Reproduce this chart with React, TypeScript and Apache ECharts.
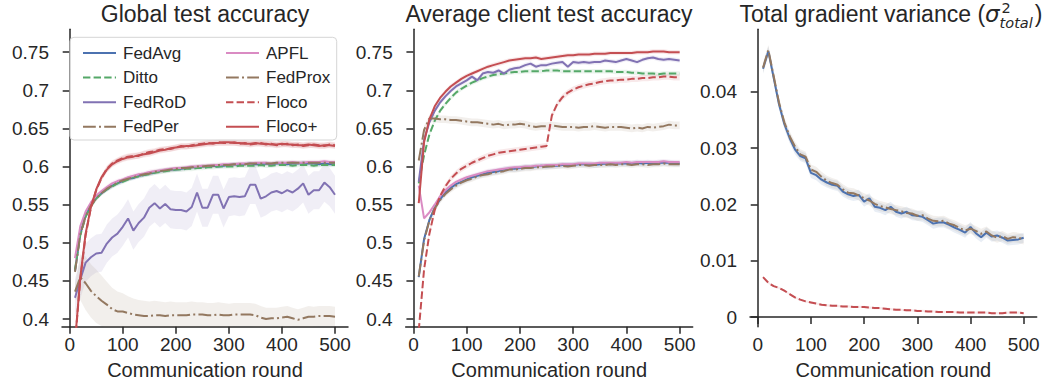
import React, { useEffect, useRef } from "react";
import * as echarts from "echarts";

// ---------------- DATA ----------------
const rounds = [10, 20, 30, 40, 50, 60, 70, 80, 90, 100, 110, 120, 130, 140, 150, 160, 170, 180, 190, 200, 210, 220, 230, 240, 250, 260, 270, 280, 290, 300, 310, 320, 330, 340, 350, 360, 370, 380, 390, 400, 410, 420, 430, 440, 450, 460, 470, 480, 490, 500];

const methods = ["FedAvg", "Ditto", "FedRoD", "FedPer", "APFL", "FedProx", "Floco", "Floco+"];
const panelTitles = ["Global test accuracy", "Average client test accuracy"];
const xAxisName = "Communication round";
const xTicks = [0, 100, 200, 300, 400, 500];
const accTicks = [0.4, 0.45, 0.5, 0.55, 0.6, 0.65, 0.7, 0.75];
const varTicks = [0, 0.01, 0.02, 0.03, 0.04];

// Global test accuracy
const globalFedAvg = [0.463, 0.512, 0.536, 0.549, 0.559, 0.565, 0.570, 0.575, 0.578, 0.581, 0.584, 0.585, 0.588, 0.589, 0.591, 0.592, 0.594, 0.595, 0.596, 0.596, 0.597, 0.598, 0.599, 0.599, 0.600, 0.600, 0.601, 0.600, 0.601, 0.602, 0.603, 0.602, 0.603, 0.604, 0.603, 0.603, 0.604, 0.603, 0.604, 0.604, 0.603, 0.604, 0.604, 0.605, 0.604, 0.604, 0.603, 0.604, 0.603, 0.603];
const globalDitto = [0.465, 0.510, 0.534, 0.548, 0.558, 0.565, 0.570, 0.574, 0.578, 0.580, 0.583, 0.586, 0.587, 0.589, 0.590, 0.592, 0.593, 0.594, 0.595, 0.596, 0.596, 0.597, 0.597, 0.598, 0.598, 0.599, 0.599, 0.600, 0.600, 0.600, 0.600, 0.601, 0.601, 0.601, 0.601, 0.602, 0.601, 0.601, 0.602, 0.602, 0.602, 0.601, 0.602, 0.602, 0.602, 0.601, 0.602, 0.602, 0.602, 0.602];
const globalFedRoD = [0.428, 0.452, 0.474, 0.481, 0.486, 0.487, 0.499, 0.507, 0.512, 0.521, 0.532, 0.516, 0.526, 0.533, 0.546, 0.552, 0.545, 0.551, 0.544, 0.543, 0.543, 0.541, 0.547, 0.566, 0.546, 0.546, 0.563, 0.563, 0.545, 0.560, 0.561, 0.560, 0.561, 0.576, 0.576, 0.558, 0.561, 0.566, 0.568, 0.565, 0.569, 0.566, 0.571, 0.578, 0.563, 0.569, 0.569, 0.579, 0.573, 0.563];
const globalFedPer = [0.436, 0.455, 0.447, 0.437, 0.430, 0.424, 0.419, 0.413, 0.410, 0.410, 0.408, 0.406, 0.405, 0.404, 0.404, 0.405, 0.405, 0.404, 0.405, 0.405, 0.405, 0.405, 0.406, 0.406, 0.406, 0.405, 0.405, 0.406, 0.405, 0.405, 0.406, 0.406, 0.406, 0.406, 0.405, 0.402, 0.400, 0.401, 0.401, 0.402, 0.403, 0.401, 0.399, 0.401, 0.403, 0.403, 0.404, 0.404, 0.404, 0.403];
const globalAPFL = [0.480, 0.522, 0.541, 0.553, 0.562, 0.568, 0.573, 0.578, 0.581, 0.583, 0.586, 0.588, 0.590, 0.591, 0.593, 0.594, 0.595, 0.596, 0.597, 0.598, 0.598, 0.599, 0.600, 0.600, 0.601, 0.601, 0.602, 0.602, 0.603, 0.603, 0.603, 0.604, 0.604, 0.604, 0.605, 0.605, 0.605, 0.604, 0.605, 0.605, 0.605, 0.606, 0.605, 0.605, 0.606, 0.606, 0.606, 0.607, 0.606, 0.606];
const globalFedProx = [0.462, 0.511, 0.535, 0.549, 0.558, 0.565, 0.571, 0.575, 0.579, 0.582, 0.584, 0.586, 0.588, 0.590, 0.591, 0.593, 0.594, 0.595, 0.596, 0.597, 0.598, 0.598, 0.599, 0.600, 0.600, 0.601, 0.601, 0.602, 0.602, 0.602, 0.603, 0.603, 0.603, 0.604, 0.604, 0.604, 0.604, 0.604, 0.605, 0.605, 0.605, 0.605, 0.605, 0.605, 0.605, 0.605, 0.605, 0.605, 0.605, 0.605];
const globalFloco = [0.368, 0.452, 0.510, 0.546, 0.569, 0.585, 0.597, 0.604, 0.608, 0.611, 0.613, 0.614, 0.614, 0.617, 0.619, 0.620, 0.622, 0.623, 0.623, 0.625, 0.627, 0.626, 0.628, 0.629, 0.630, 0.631, 0.630, 0.632, 0.631, 0.631, 0.632, 0.630, 0.631, 0.629, 0.630, 0.631, 0.629, 0.630, 0.628, 0.629, 0.630, 0.628, 0.629, 0.627, 0.628, 0.629, 0.628, 0.627, 0.629, 0.628];
const globalFlocoPlus = [0.370, 0.455, 0.512, 0.547, 0.570, 0.586, 0.596, 0.603, 0.607, 0.610, 0.612, 0.613, 0.615, 0.616, 0.617, 0.619, 0.621, 0.622, 0.624, 0.625, 0.626, 0.627, 0.627, 0.628, 0.629, 0.630, 0.631, 0.631, 0.632, 0.632, 0.631, 0.631, 0.630, 0.630, 0.631, 0.630, 0.630, 0.629, 0.629, 0.630, 0.629, 0.629, 0.628, 0.628, 0.629, 0.628, 0.627, 0.628, 0.628, 0.627];

// Average client test accuracy
const clientFedAvg = [0.455, 0.505, 0.530, 0.546, 0.557, 0.566, 0.572, 0.577, 0.580, 0.583, 0.586, 0.588, 0.590, 0.592, 0.593, 0.594, 0.596, 0.597, 0.597, 0.598, 0.599, 0.599, 0.600, 0.601, 0.600, 0.601, 0.601, 0.602, 0.602, 0.602, 0.603, 0.603, 0.603, 0.602, 0.603, 0.604, 0.603, 0.604, 0.604, 0.604, 0.604, 0.605, 0.604, 0.605, 0.604, 0.605, 0.605, 0.605, 0.604, 0.604];
const clientDitto = [0.578, 0.615, 0.642, 0.660, 0.673, 0.682, 0.690, 0.697, 0.702, 0.706, 0.710, 0.713, 0.716, 0.718, 0.720, 0.721, 0.722, 0.723, 0.724, 0.724, 0.725, 0.725, 0.725, 0.725, 0.726, 0.726, 0.726, 0.725, 0.725, 0.725, 0.725, 0.725, 0.725, 0.725, 0.725, 0.725, 0.725, 0.724, 0.724, 0.724, 0.723, 0.723, 0.722, 0.722, 0.722, 0.721, 0.722, 0.722, 0.722, 0.722];
const clientFedRoD = [0.580, 0.635, 0.658, 0.673, 0.684, 0.692, 0.699, 0.705, 0.709, 0.713, 0.718, 0.713, 0.722, 0.724, 0.723, 0.726, 0.722, 0.727, 0.729, 0.730, 0.733, 0.735, 0.731, 0.733, 0.733, 0.735, 0.736, 0.737, 0.731, 0.737, 0.736, 0.737, 0.736, 0.737, 0.737, 0.739, 0.738, 0.737, 0.739, 0.741, 0.739, 0.737, 0.740, 0.742, 0.743, 0.741, 0.740, 0.741, 0.740, 0.739];
const clientFedPer = [0.608, 0.648, 0.663, 0.663, 0.662, 0.662, 0.661, 0.661, 0.660, 0.659, 0.658, 0.658, 0.657, 0.656, 0.655, 0.656, 0.654, 0.655, 0.655, 0.656, 0.655, 0.653, 0.652, 0.653, 0.653, 0.654, 0.653, 0.652, 0.652, 0.652, 0.651, 0.652, 0.652, 0.653, 0.652, 0.651, 0.652, 0.652, 0.652, 0.651, 0.650, 0.651, 0.650, 0.652, 0.651, 0.652, 0.653, 0.655, 0.654, 0.654];
const clientAPFL = [0.575, 0.532, 0.540, 0.550, 0.561, 0.569, 0.575, 0.580, 0.583, 0.586, 0.588, 0.590, 0.592, 0.594, 0.595, 0.596, 0.597, 0.598, 0.599, 0.599, 0.600, 0.600, 0.601, 0.601, 0.602, 0.602, 0.602, 0.603, 0.603, 0.603, 0.604, 0.604, 0.604, 0.604, 0.605, 0.605, 0.605, 0.605, 0.605, 0.606, 0.605, 0.606, 0.606, 0.606, 0.606, 0.606, 0.607, 0.606, 0.606, 0.606];
const clientFedProx = [0.456, 0.503, 0.529, 0.545, 0.556, 0.564, 0.570, 0.575, 0.579, 0.582, 0.584, 0.587, 0.589, 0.590, 0.592, 0.593, 0.594, 0.596, 0.596, 0.597, 0.598, 0.598, 0.599, 0.599, 0.600, 0.600, 0.601, 0.601, 0.600, 0.601, 0.602, 0.602, 0.601, 0.602, 0.602, 0.602, 0.603, 0.602, 0.603, 0.603, 0.602, 0.603, 0.603, 0.602, 0.603, 0.603, 0.604, 0.603, 0.603, 0.603];
const clientFloco = [0.385, 0.465, 0.512, 0.543, 0.561, 0.574, 0.584, 0.591, 0.597, 0.601, 0.605, 0.608, 0.611, 0.614, 0.616, 0.618, 0.619, 0.620, 0.621, 0.622, 0.623, 0.624, 0.625, 0.626, 0.627, 0.667, 0.682, 0.691, 0.697, 0.701, 0.704, 0.706, 0.708, 0.709, 0.711, 0.712, 0.713, 0.713, 0.714, 0.714, 0.715, 0.715, 0.716, 0.716, 0.717, 0.717, 0.718, 0.718, 0.717, 0.717];
const clientFlocoPlus = [0.552, 0.632, 0.662, 0.679, 0.690, 0.698, 0.705, 0.710, 0.715, 0.719, 0.722, 0.725, 0.728, 0.731, 0.733, 0.735, 0.737, 0.739, 0.740, 0.741, 0.742, 0.742, 0.743, 0.741, 0.742, 0.743, 0.744, 0.745, 0.746, 0.746, 0.747, 0.747, 0.747, 0.748, 0.748, 0.748, 0.749, 0.749, 0.749, 0.749, 0.749, 0.750, 0.750, 0.750, 0.751, 0.751, 0.751, 0.750, 0.750, 0.750];

// Total gradient variance
const varFedAvg = [0.0441, 0.0472, 0.0425, 0.0378, 0.0343, 0.0318, 0.0298, 0.0286, 0.0282, 0.0256, 0.0252, 0.0244, 0.0239, 0.0235, 0.0233, 0.0223, 0.0218, 0.0215, 0.0217, 0.0205, 0.0211, 0.0196, 0.0194, 0.0190, 0.0196, 0.0187, 0.0184, 0.0187, 0.0181, 0.0180, 0.0178, 0.0172, 0.0166, 0.0168, 0.0168, 0.0164, 0.0159, 0.0155, 0.0150, 0.0160, 0.0149, 0.0142, 0.0150, 0.0143, 0.0145, 0.0141, 0.0136, 0.0137, 0.0138, 0.0141];
const varFedProx = [0.0443, 0.0474, 0.0428, 0.0381, 0.0346, 0.0321, 0.0303, 0.0289, 0.0285, 0.0262, 0.0258, 0.0249, 0.0242, 0.0238, 0.0235, 0.0227, 0.0221, 0.0220, 0.0216, 0.0211, 0.0207, 0.0201, 0.0197, 0.0195, 0.0192, 0.0190, 0.0188, 0.0185, 0.0184, 0.0180, 0.0181, 0.0175, 0.0171, 0.0170, 0.0171, 0.0166, 0.0163, 0.0158, 0.0154, 0.0157, 0.0153, 0.0148, 0.0152, 0.0145, 0.0141, 0.0144, 0.0139, 0.0142, 0.0141, 0.0138];
const varFloco = [0.0071, 0.0061, 0.0055, 0.0052, 0.0047, 0.0041, 0.0035, 0.0031, 0.0028, 0.0026, 0.0024, 0.0022, 0.0021, 0.0020, 0.0020, 0.0019, 0.0019, 0.0018, 0.0018, 0.0018, 0.0017, 0.0016, 0.0016, 0.0015, 0.0014, 0.0013, 0.0013, 0.0012, 0.0012, 0.0011, 0.0011, 0.0010, 0.0010, 0.0009, 0.0009, 0.0009, 0.0009, 0.0008, 0.0008, 0.0008, 0.0008, 0.0008, 0.0008, 0.0007, 0.0007, 0.0007, 0.0008, 0.0008, 0.0008, 0.0007];

// confidence-band half widths
const globalFedPerBand = [0.010, 0.030, 0.035, 0.035, 0.035, 0.033, 0.030, 0.028, 0.026, 0.024, 0.022, 0.021, 0.020, 0.020, 0.019, 0.019, 0.018, 0.018, 0.018, 0.017, 0.017, 0.017, 0.017, 0.016, 0.016, 0.016, 0.016, 0.016, 0.016, 0.015, 0.015, 0.015, 0.015, 0.015, 0.015, 0.015, 0.015, 0.014, 0.014, 0.014, 0.014, 0.014, 0.014, 0.014, 0.014, 0.013, 0.013, 0.013, 0.013, 0.013];
const globalBandWidths = [0.003, 0.003, 0.025, 0, 0.003, 0.003, 0.004, 0.004];
const clientBandWidths = [0.004, 0.003, 0.003, 0.005, 0.003, 0.004, 0.004, 0.003];
const varBandWidths = [0.0009, 0.0009, 0.0002];

// ---------------- STYLE ----------------
const COLORS: Record<string, string> = {
  FedAvg: "#4C72B0",
  Ditto: "#55A868",
  FedRoD: "#8172B3",
  FedPer: "#937860",
  APFL: "#DA8BC3",
  FedProx: "#937860",
  Floco: "#C44E52",
  "Floco+": "#C44E52",
};
const DASH = [7.4, 3.2];
const DASHDOT = [12.8, 3.2, 2, 3.2];
const LINETYPE: Record<string, any> = {
  FedAvg: "solid",
  Ditto: DASH,
  FedRoD: "solid",
  FedPer: DASHDOT,
  APFL: "solid",
  FedProx: DASHDOT,
  Floco: DASH,
  "Floco+": "solid",
};
const INK = "#262626";
const FONT = "Liberation Sans";

const GRIDS = [
  { left: 62, top: 29.3, width: 286, height: 297.4 },
  { left: 405.7, top: 29.3, width: 287, height: 297.4 },
  { left: 750, top: 29.3, width: 286.7, height: 297.4 },
];

function lineSeries(gi: number, name: string, vals: number[]) {
  return {
    type: "line",
    name,
    xAxisIndex: gi,
    yAxisIndex: gi,
    data: rounds.map((r, i) => [r, vals[i]]),
    symbol: "none",
    showSymbol: false,
    clip: true,
    z: 3,
    lineStyle: { color: COLORS[name], width: 2, type: LINETYPE[name] },
    itemStyle: { color: COLORS[name] },
    emphasis: { disabled: true },
  };
}

function bandSeries(gi: number, name: string, vals: number[], hw: number | number[]) {
  const lo = vals.map((v, i) => v - (Array.isArray(hw) ? hw[i] : hw));
  const hi = vals.map((v, i) => v + (Array.isArray(hw) ? hw[i] : hw));
  return {
    type: "custom",
    name: name + " band",
    xAxisIndex: gi,
    yAxisIndex: gi,
    silent: true,
    clip: true,
    z: 1,
    data: rounds.map((r, i) => [r, lo[i], hi[i]]),
    encode: { x: 0, y: [1, 2] },
    renderItem: (params: any, api: any) => {
      if (params.dataIndex !== 0) return null;
      const pts: number[][] = [];
      for (let i = 0; i < rounds.length; i++) pts.push(api.coord([rounds[i], hi[i]]));
      for (let i = rounds.length - 1; i >= 0; i--) pts.push(api.coord([rounds[i], lo[i]]));
      const cs = params.coordSys;
      return {
        type: "polygon",
        shape: { points: pts },
        style: { fill: COLORS[name], opacity: 0.12 },
        clipPath: { type: "rect", shape: { x: cs.x, y: cs.y, width: cs.width, height: cs.height } },
      };
    },
  };
}

function measure(text: string, size: number, family: string, italic = false) {
  const c = document.createElement("canvas").getContext("2d")!;
  c.font = `${italic ? "italic " : ""}${size}px "${family}"`;
  return c.measureText(text).width;
}

function xAxis(gi: number) {
  return {
    type: "value",
    gridIndex: gi,
    min: -14.5,
    max: 524.5,
    splitLine: { show: false },
    axisLine: { show: true, lineStyle: { color: INK, width: 1.5 } },
    axisTick: { show: true, length: 7, lineStyle: { color: INK, width: 1.5 }, customValues: xTicks },
    axisLabel: { customValues: xTicks, fontSize: 19, color: INK, fontFamily: FONT, margin: 8 },
    name: xAxisName,
    nameLocation: "middle",
    nameGap: 33,
    nameTextStyle: { fontSize: 20, color: INK, fontFamily: FONT },
  };
}

function yAxis(gi: number, min: number, max: number, ticks: number[]) {
  return {
    type: "value",
    gridIndex: gi,
    min,
    max,
    splitLine: { show: false },
    axisLine: { show: true, lineStyle: { color: INK, width: 1.5 } },
    axisTick: { show: true, length: 7, lineStyle: { color: INK, width: 1.5 }, customValues: ticks },
    axisLabel: {
      customValues: ticks,
      fontSize: 19,
      color: INK,
      fontFamily: FONT,
      margin: 13,
      formatter: (v: number) => String(+Number(v).toFixed(3)),
    },
  };
}

export default function App() {
  const ref = useRef<HTMLDivElement>(null);
  useEffect(() => {
    if (!ref.current) return;
    const chart = echarts.init(ref.current, undefined, { renderer: "svg" });

    const globalData = [globalFedAvg, globalDitto, globalFedRoD, globalFedPer, globalAPFL, globalFedProx, globalFloco, globalFlocoPlus];
    const clientData = [clientFedAvg, clientDitto, clientFedRoD, clientFedPer, clientAPFL, clientFedProx, clientFloco, clientFlocoPlus];
    const varNames = ["FedAvg", "FedProx", "Floco"];
    const varData = [varFedAvg, varFedProx, varFloco];

    const series: any[] = [];
    methods.forEach((m, i) => series.push(bandSeries(0, m, globalData[i], m === "FedPer" ? globalFedPerBand : globalBandWidths[i])));
    methods.forEach((m, i) => series.push(bandSeries(1, m, clientData[i], clientBandWidths[i])));
    varNames.forEach((m, i) => series.push(bandSeries(2, m, varData[i], varBandWidths[i])));
    methods.forEach((m, i) => series.push(lineSeries(0, m, globalData[i])));
    methods.forEach((m, i) => series.push(lineSeries(1, m, clientData[i])));
    varNames.forEach((m, i) => series.push(lineSeries(2, m, varData[i])));

    // Third title with math
    const TS = 23;
    const SS = 14.5;
    const mainTxt = "Total gradient variance (";
    const w1 = measure(mainTxt, TS, FONT);
    const ws = measure("σ", TS, "DejaVu Sans", true);
    const w2 = measure("2", SS, "DejaVu Sans");
    const wt = measure("total", SS, "DejaVu Sans", true);
    const wc = measure(")", TS, FONT);
    const totalW = w1 + ws + 1 + Math.max(w2, wt) + 1 + wc;
    const x0 = 891 - totalW / 2;
    const titleY = 2;

    const graphic: any[] = [
      {
        type: "rect",
        z: 3,
        shape: { x: 70, y: 37.3, width: 266.7, height: 102.7, r: 4 },
        style: { fill: "rgba(255,255,255,0.8)", stroke: "#d5d5d5", lineWidth: 1 },
        silent: true,
      },
      {
        type: "text", x: 205, y: titleY,
        style: { text: panelTitles[0], fontSize: TS, fontFamily: FONT, fill: INK, align: "center", verticalAlign: "top" },
      },
      {
        type: "text", x: 549, y: titleY,
        style: { text: panelTitles[1], fontSize: TS, fontFamily: FONT, fill: INK, align: "center", verticalAlign: "top" },
      },
      {
        type: "text", x: x0, y: titleY,
        style: { text: mainTxt, fontSize: TS, fontFamily: FONT, fill: INK, align: "left", verticalAlign: "top" },
      },
      {
        type: "text", x: x0 + w1, y: titleY,
        style: { text: "σ", fontSize: TS, fontFamily: "DejaVu Sans", fontStyle: "italic", fill: INK, align: "left", verticalAlign: "top" },
      },
      {
        type: "text", x: x0 + w1 + ws + 2, y: 0,
        style: { text: "2", fontSize: SS, fontFamily: "DejaVu Sans", fill: INK, align: "left", verticalAlign: "top" },
      },
      {
        type: "text", x: x0 + w1 + ws, y: 15,
        style: { text: "total", fontSize: SS, fontFamily: "DejaVu Sans", fontStyle: "italic", fill: INK, align: "left", verticalAlign: "top" },
      },
      {
        type: "text", x: x0 + w1 + ws + 1 + Math.max(w2, wt) + 1, y: titleY,
        style: { text: ")", fontSize: TS, fontFamily: FONT, fill: INK, align: "left", verticalAlign: "top" },
      },
    ];

    const legendBase = {
      orient: "vertical",
      top: 39.5,
      itemWidth: 33,
      itemHeight: 14,
      itemGap: 7.6,
      selectedMode: false,
      z: 5,
      itemStyle: { opacity: 0 },
      textStyle: { fontSize: 17, color: INK, fontFamily: FONT, padding: [0, 0, 0, 2] },
    };

    chart.setOption({
      animation: false,
      backgroundColor: "#ffffff",
      grid: GRIDS,
      xAxis: [xAxis(0), xAxis(1), xAxis(2)],
      yAxis: [
        yAxis(0, 0.39, 0.78, accTicks),
        yAxis(1, 0.39, 0.78, accTicks),
        yAxis(2, -0.0017, 0.0511, varTicks),
      ],
      legend: [
        { ...legendBase, left: 77, data: methods.slice(0, 4) },
        { ...legendBase, left: 220, data: methods.slice(4) },
      ],
      graphic,
      series,
    });
    return () => chart.dispose();
  }, []);
  return <div ref={ref} style={{ position: "absolute", left: 0, top: 0, width: 1050, height: 385 }} />;
}
